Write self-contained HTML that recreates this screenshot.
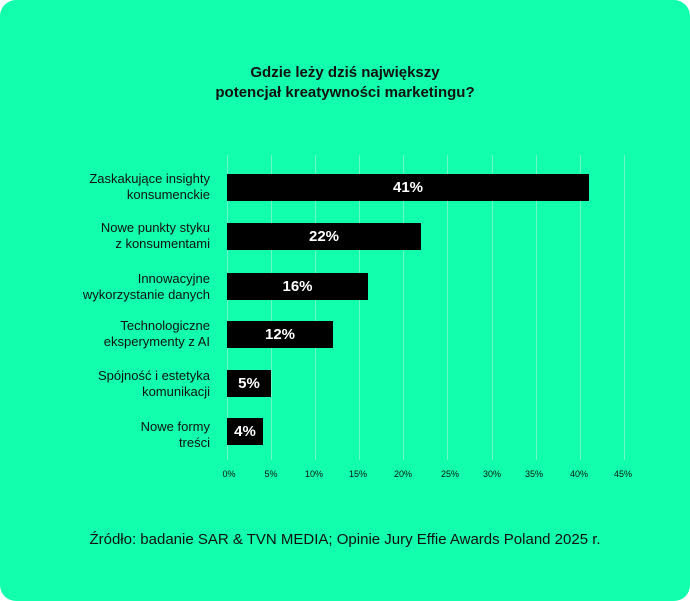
<!DOCTYPE html>
<html><head><meta charset="utf-8"><style>
html,body{margin:0;padding:0;background:#fff;}
#c{position:relative;width:690px;height:601px;background:#12FFAD;border-radius:16px;overflow:hidden;font-family:"Liberation Sans",sans-serif;color:#111;}
.t{position:absolute;left:0;width:690px;text-align:center;font-weight:bold;font-size:15px;line-height:20px;}
.g{position:absolute;top:155px;height:305px;width:1px;background:#6ef7c6;}
.b{position:absolute;left:227px;height:27px;background:#000;color:#fff;font-weight:bold;font-size:15px;line-height:27px;text-align:center;}
.l{position:absolute;right:480px;width:200px;text-align:right;font-size:13px;line-height:16px;}
.x{position:absolute;top:469px;font-size:9px;width:30px;margin-left:-15px;text-align:center;}
.s{position:absolute;top:531px;left:0;width:690px;text-align:center;font-size:15px;}
</style></head><body><div id="c">
<div class="t" style="top:63px">Gdzie leży dziś największy<br>potencjał kreatywności marketingu?</div>
<div class="g" style="left:227px"></div><div class="g" style="left:271px"></div><div class="g" style="left:315px"></div><div class="g" style="left:359px"></div><div class="g" style="left:403px"></div><div class="g" style="left:447px"></div><div class="g" style="left:492px"></div><div class="g" style="left:536px"></div><div class="g" style="left:580px"></div><div class="g" style="left:624px"></div>
<div class="b" style="top:174px;width:362px">41%</div>
<div class="b" style="top:223px;width:194px">22%</div>
<div class="b" style="top:273px;width:141px">16%</div>
<div class="b" style="top:321px;width:106px">12%</div>
<div class="b" style="top:370px;width:44px">5%</div>
<div class="b" style="top:418px;width:36px">4%</div>
<div class="l" style="top:171px">Zaskakujące insighty<br>konsumenckie</div>
<div class="l" style="top:220px">Nowe punkty styku<br>z konsumentami</div>
<div class="l" style="top:271px">Innowacyjne<br>wykorzystanie danych</div>
<div class="l" style="top:318px">Technologiczne<br>eksperymenty z AI</div>
<div class="l" style="top:368px">Spójność i estetyka<br>komunikacji</div>
<div class="l" style="top:419px">Nowe formy<br>treści</div>
<div class="x" style="left:229px">0%</div><div class="x" style="left:271px">5%</div><div class="x" style="left:314px">10%</div><div class="x" style="left:358px">15%</div><div class="x" style="left:403px">20%</div><div class="x" style="left:450px">25%</div><div class="x" style="left:492px">30%</div><div class="x" style="left:534px">35%</div><div class="x" style="left:579px">40%</div><div class="x" style="left:623px">45%</div>
<div class="s">Źródło: badanie SAR &amp; TVN MEDIA; Opinie Jury Effie Awards Poland 2025 r.</div>
</div></body></html>
